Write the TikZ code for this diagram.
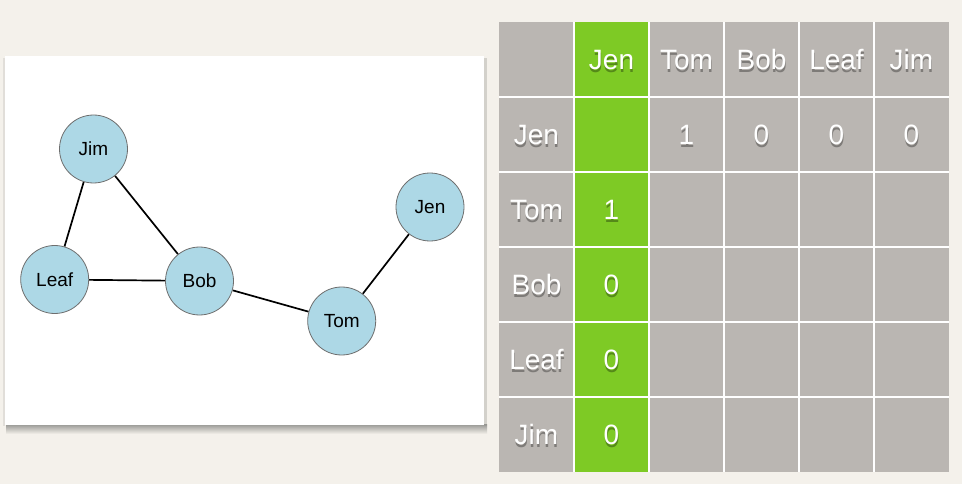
\documentclass[tikz,border=0pt]{standalone}
\usepackage{fontspec}
\setmainfont{Liberation Sans}
\definecolor{bgcream}{RGB}{244,241,235}
\definecolor{cellgray}{RGB}{186,182,178}
\definecolor{jengreen}{RGB}{126,202,37}
\definecolor{nodeblue}{RGB}{173,216,230}
\definecolor{nodeline}{RGB}{110,110,110}
\definecolor{shadowgray}{RGB}{150,150,146}
\pgfdeclarelayer{backdrop}
\pgfdeclarelayer{edges}
\pgfsetlayers{backdrop,edges,main}
\tikzset{
  vertex/.style={circle, fill=nodeblue, draw=nodeline, line width=0.8pt,
    minimum size=68pt, inner sep=0pt, font=\fontsize{19}{19}\selectfont, text=black},
  link/.style={line width=1.7pt, black},
  celltext/.style={text=white, font=\fontsize{28}{28}\selectfont, inner sep=0pt, anchor=base},
  cellshadow/.style={text=black, text opacity=0.32, font=\fontsize{28}{28}\selectfont, inner sep=0pt, anchor=base},
  gridline/.style={white, line width=1.2pt}
}
\newcommand\celllabel[4]{%
  \node[cellshadow] (#1s) at (#2+0.5,#3+12.6) {#4};
  \node[celltext] (#1) at (#2,#3+10) {#4};
}
\begin{document}
\begin{tikzpicture}[x=1pt,y=-1pt]
  \begin{pgfonlayer}{backdrop}
    \fill[bgcream] (0,0) rectangle (962,484);
    % panel shadow
    \shade[top color=shadowgray, bottom color=bgcream] (6,424) rectangle (487,434);
    \fill[shadowgray, opacity=0.35] (484,58) rectangle (487,426);
    \fill[shadowgray, opacity=0.2] (3,58) rectangle (5,426);
    % panel
    \fill[white] (5,55.7) rectangle (484,425);
  \end{pgfonlayer}
  \useasboundingbox (0,0) rectangle (962,484);

  % graph
  \node[vertex] (jim)  at (93.5,149)   {Jim};
  \node[vertex] (leaf) at (54.7,279.5) {Leaf};
  \node[vertex] (bob)  at (199.5,281)  {Bob};
  \node[vertex] (tom)  at (341.7,321)  {Tom};
  \node[vertex] (jen)  at (430,207)    {Jen};
  \begin{pgfonlayer}{edges}
    \draw[link] (jim) -- (leaf);
    \draw[link] (jim) -- (bob);
    \draw[link] (leaf) -- (bob);
    \draw[link] (bob) -- (tom);
    \draw[link] (tom) -- (jen);
  \end{pgfonlayer}

  % table
  \fill[cellgray] (499,22) rectangle (948.7,471.7);
  \fill[jengreen] (574,22) rectangle (649,471.7);
  \foreach \gx in {574,649,724,799,874}
    \draw[gridline] (\gx,22) -- (\gx,471.7);
  \foreach \gy in {97,172,247,322,397}
    \draw[gridline] (499,\gy) -- (948.7,\gy);

  % header row
  \celllabel{hjen}{611.5}{59.5}{Jen}
  \celllabel{htom}{686.5}{59.5}{Tom}
  \celllabel{hbob}{761.5}{59.5}{Bob}
  \celllabel{hleaf}{836.5}{59.5}{Leaf}
  \celllabel{hjim}{911.5}{59.5}{Jim}
  % row labels
  \celllabel{rjen}{536.5}{134.5}{Jen}
  \celllabel{rtom}{536.5}{209.5}{Tom}
  \celllabel{rbob}{536.5}{284.5}{Bob}
  \celllabel{rleaf}{536.5}{359.5}{Leaf}
  \celllabel{rjim}{536.5}{434.5}{Jim}
  % Jen row values
  \celllabel{vab}{686.5}{134.5}{1}
  \celllabel{vac}{761.5}{134.5}{0}
  \celllabel{vad}{836.5}{134.5}{0}
  \celllabel{vae}{911.5}{134.5}{0}
  % Jen column values
  \celllabel{vba}{611.5}{209.5}{1}
  \celllabel{vca}{611.5}{284.5}{0}
  \celllabel{vda}{611.5}{359.5}{0}
  \celllabel{vea}{611.5}{434.5}{0}
\end{tikzpicture}
\end{document}
